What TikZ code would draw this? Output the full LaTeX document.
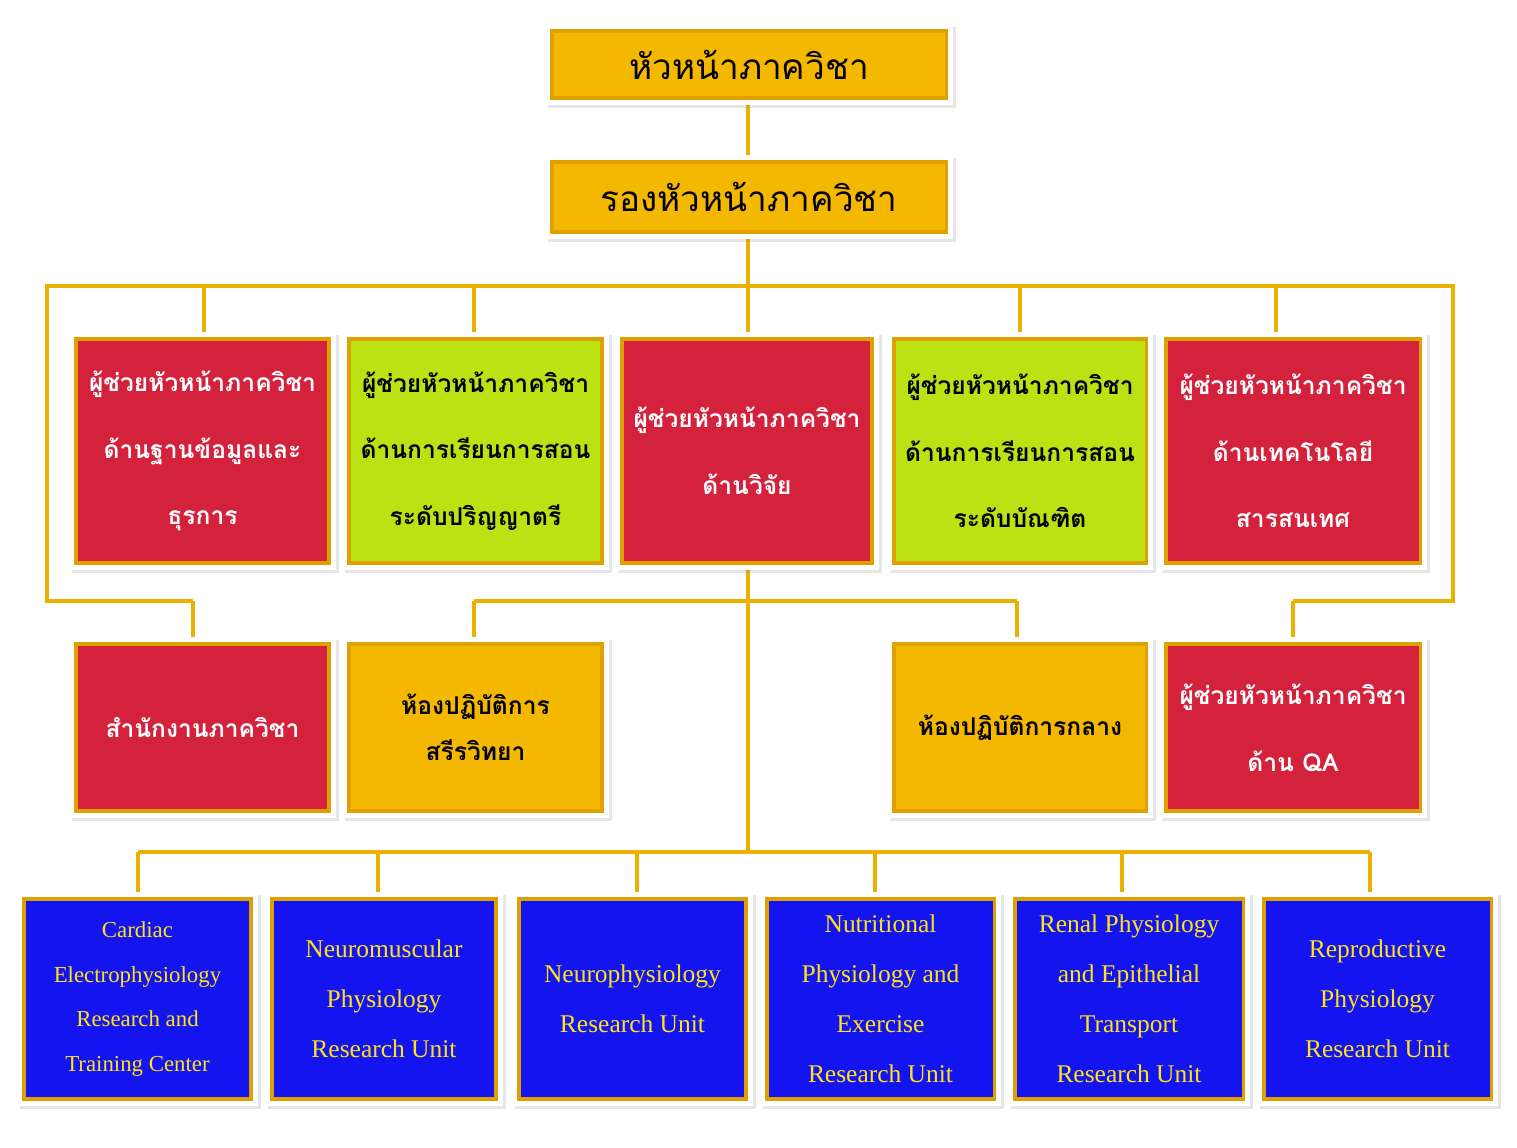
\documentclass[tikz,border=0pt]{standalone}
\usepackage{fontspec}
\setmainfont{Liberation Serif}
\newfontfamily\thaifont[Script=Thai]{Loma}
\usetikzlibrary{shadows}
\definecolor{gld}{HTML}{EBB000}
\definecolor{gldb}{HTML}{E0A000}
\definecolor{orf}{HTML}{F5B800}
\definecolor{rdf}{HTML}{D4223C}
\definecolor{grf}{HTML}{BCE214}
\definecolor{blf}{HTML}{1414F0}
\definecolor{ylt}{HTML}{FFE31A}
\tikzset{
 conn/.style={draw=gld,line width=2.8pt},
 frame/.style={fill=white,drop shadow={opacity=0.2,shadow xshift=1.5pt,shadow yshift=-1.5pt}},
 boxbase/.style={draw=gldb,line width=2pt,align=center,inner sep=0pt},
 orbox/.style={boxbase,fill=orf,text=black},
 rdbox/.style={boxbase,fill=rdf,text=white},
 grbox/.style={boxbase,fill=grf,text=black},
 blbox/.style={boxbase,fill=blf,text=ylt},
 thbig/.style={font=\thaifont\fontsize{20}{24}\selectfont},
 thtxt/.style={font=\thaifont\bfseries\fontsize{14}{38}\selectfont},
 thtwo/.style={font=\thaifont\bfseries\fontsize{14}{26}\selectfont},
 ensm/.style={font=\fontsize{13}{25.5}\selectfont},
 enbg/.style={font=\fontsize{14.5}{28.5}\selectfont},
}
% \bx{name}{x1}{y1}{x2}{y2}{style}{text}
\newcommand\bx[7]{%
 \path[frame] (#2-5,#3-5) rectangle (#4+5,#5+5);
 \node[#6,minimum width={(#4-#2)*0.02cm-2pt},minimum height={(#5-#3)*0.02cm-2pt}] (#1) at ({(#2+#4)/2},{(#3+#5)/2}) {#7};}
\begin{document}
\begin{tikzpicture}[x=0.02cm,y=-0.02cm]
\useasboundingbox (0,0) rectangle (1517,1148);
% connectors
\coordinate (busL) at (47,286); \coordinate (busR) at (1453,286);
\coordinate (l1) at (47,601); \coordinate (l2) at (193,601);
\coordinate (r1) at (1453,601); \coordinate (r2) at (1293,601);
\coordinate (mL) at (474,601); \coordinate (mR) at (1017,601);
\coordinate (b) at (748,852); \coordinate (bL) at (138,852); \coordinate (bR) at (1370,852);
\draw[conn] (748,100) -- (748,160);
\draw[conn] (748,236) -- (b);
\draw[conn] (l2) -- (l1) -- (busL) -- (busR) -- (r1) -- (r2);
\draw[conn] (193,601) -- (193,642); \draw[conn] (1293,601) -- (1293,642);
\draw[conn] (mL) -- (mR); \draw[conn] (474,601) -- (474,642); \draw[conn] (1017,601) -- (1017,642);
\foreach \x in {204,474,748,1020,1276} \draw[conn] (\x,286) -- (\x,337);
\draw[conn] (bL) -- (bR);
\foreach \x in {138,378,637,875,1122,1370} \draw[conn] (\x,852) -- (\x,897);
% boxes
\bx{head}{550}{29}{948}{100}{orbox,thbig}{หัวหน้าภาควิชา}
\bx{dep}{550}{160}{948}{234}{orbox,thbig}{รองหัวหน้าภาควิชา}
\bx{a1}{74}{337}{331}{565}{rdbox,thtxt}{ผู้ช่วยหัวหน้าภาควิชา\\ด้านฐานข้อมูลและ\\ธุรการ}
\bx{a2}{347}{337}{604}{565}{grbox,thtxt}{ผู้ช่วยหัวหน้าภาควิชา\\ด้านการเรียนการสอน\\ระดับปริญญาตรี}
\bx{a3}{620}{337}{874}{565}{rdbox,thtxt}{ผู้ช่วยหัวหน้าภาควิชา\\ด้านวิจัย}
\bx{a4}{892}{337}{1148}{565}{grbox,thtxt}{ผู้ช่วยหัวหน้าภาควิชา\\ด้านการเรียนการสอน\\ระดับบัณฑิต}
\bx{a5}{1164}{337}{1422}{565}{rdbox,thtxt}{ผู้ช่วยหัวหน้าภาควิชา\\ด้านเทคโนโลยี\\สารสนเทศ}
\bx{c1}{74}{642}{331}{813}{rdbox,thtxt}{สำนักงานภาควิชา}
\bx{c2}{347}{642}{604}{813}{orbox,thtwo}{ห้องปฏิบัติการ\\สรีรวิทยา}
\bx{c4}{892}{642}{1148}{813}{orbox,thtxt}{ห้องปฏิบัติการกลาง}
\bx{c5}{1164}{642}{1422}{813}{rdbox,thtxt}{ผู้ช่วยหัวหน้าภาควิชา\\ด้าน QA}
\bx{u1}{22}{897}{253}{1101}{blbox,ensm}{Cardiac\\Electrophysiology\\Research and\\Training Center}
\bx{u2}{270}{897}{498}{1101}{blbox,enbg}{Neuromuscular\\Physiology\\Research Unit}
\bx{u3}{517}{897}{748}{1101}{blbox,enbg}{Neurophysiology\\Research Unit}
\bx{u4}{765}{897}{996}{1101}{blbox,enbg}{Nutritional\\Physiology and\\Exercise\\Research Unit}
\bx{u5}{1013}{897}{1245}{1101}{blbox,enbg}{Renal Physiology\\and Epithelial\\Transport\\Research Unit}
\bx{u6}{1262}{897}{1493}{1101}{blbox,enbg}{Reproductive\\Physiology\\Research Unit}
\end{tikzpicture}
\end{document}
